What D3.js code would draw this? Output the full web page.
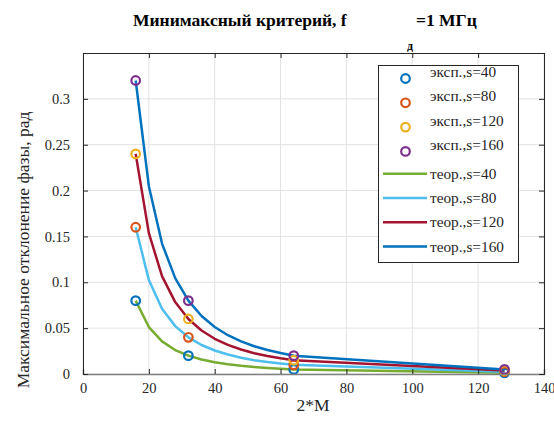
<!DOCTYPE html>
<html><head><meta charset="utf-8">
<script src="https://cdn.jsdelivr.net/npm/d3@7"></script>
<style>body{margin:0;background:#fff}svg{display:block}</style>
</head><body>
<script>
const expX = [16, 32, 64, 128];
const exp40 = [0.08, 0.02, 0.005, 0.00125];
const exp80 = [0.16, 0.04, 0.01, 0.0025];
const exp120 = [0.24, 0.06, 0.015, 0.00375];
const exp160 = [0.32, 0.08, 0.02, 0.005];
const teorX = [16, 20, 24, 28, 32, 36, 40, 44, 48, 52, 56, 60, 64, 128];
const teor40 = [0.08, 0.0512, 0.0356, 0.0261, 0.02, 0.0158, 0.0128, 0.0106, 0.0089, 0.0076, 0.0065, 0.0057, 0.005, 0.00125];
const teor80 = [0.16, 0.1024, 0.0711, 0.0522, 0.04, 0.0316, 0.0256, 0.0212, 0.0178, 0.0151, 0.0131, 0.0114, 0.01, 0.0025];
const teor120 = [0.24, 0.1536, 0.1067, 0.0784, 0.06, 0.0474, 0.0384, 0.0317, 0.0267, 0.0227, 0.0196, 0.0171, 0.015, 0.00375];
const teor160 = [0.32, 0.2048, 0.1422, 0.1045, 0.08, 0.0632, 0.0512, 0.0423, 0.0356, 0.0303, 0.0261, 0.0228, 0.02, 0.005];
const xTicks = [0, 20, 40, 60, 80, 100, 120, 140];
const yTicks = [0, 0.05, 0.1, 0.15, 0.2, 0.25, 0.3];
const expSeries = [
  {name: "эксп.,s=40", vals: exp40, color: "#0072BD"},
  {name: "эксп.,s=80", vals: exp80, color: "#D95319"},
  {name: "эксп.,s=120", vals: exp120, color: "#EDB120"},
  {name: "эксп.,s=160", vals: exp160, color: "#7E2F8E"}
];
const teorSeries = [
  {name: "теор.,s=40", vals: teor40, color: "#77AC30"},
  {name: "теор.,s=80", vals: teor80, color: "#4DBEEE"},
  {name: "теор.,s=120", vals: teor120, color: "#A2142F"},
  {name: "теор.,s=160", vals: teor160, color: "#0072BD"}
];

const W = 554, H = 421;
const L = 83, R = 544, T = 53, B = 374;
const font = "'Liberation Serif', 'Times New Roman', serif";
const svg = d3.select("body").append("svg").attr("width", W).attr("height", H)
  .attr("font-family", font);

const x = d3.scaleLinear().domain([0, 140]).range([L, R]);
const y = d3.scaleLinear().domain([0, 0.35]).range([B, T]);

// grid
const g = svg.append("g");
g.selectAll(".gx").data(xTicks).enter().append("line")
  .attr("x1", d => x(d)).attr("x2", d => x(d)).attr("y1", T).attr("y2", B)
  .attr("stroke", "#e3e3e3").attr("stroke-width", 1);
g.selectAll(".gy").data(yTicks).enter().append("line")
  .attr("y1", d => y(d)).attr("y2", d => y(d)).attr("x1", L).attr("x2", R)
  .attr("stroke", "#e3e3e3").attr("stroke-width", 1);

// lines
const line = d3.line().x((d, i) => x(teorX[i])).y(d => y(d));
teorSeries.forEach(s => {
  svg.append("path").datum(s.vals).attr("d", line)
    .attr("fill", "none").attr("stroke", s.color).attr("stroke-width", 2.5)
    .attr("stroke-linejoin", "round");
});
// markers
expSeries.forEach(s => {
  svg.selectAll(null).data(s.vals).enter().append("circle")
    .attr("cx", (d, i) => x(expX[i])).attr("cy", d => y(d)).attr("r", 4.3)
    .attr("fill", "none").attr("stroke", s.color).attr("stroke-width", 2.2);
});

// axes
const axCol = "#262626";
const xAxis = svg.append("g").attr("transform", `translate(0,${B})`)
  .call(d3.axisBottom(x).tickValues(xTicks).tickSize(-5).tickPadding(9).tickFormat(d3.format("d")));
const xAxisTop = svg.append("g").attr("transform", `translate(0,${T})`)
  .call(d3.axisTop(x).tickValues(xTicks).tickSize(-5).tickFormat(""));
const yAxis = svg.append("g").attr("transform", `translate(${L},0)`)
  .call(d3.axisLeft(y).tickValues(yTicks).tickSize(-5).tickPadding(13).tickFormat(d => d === 0 ? "0" : String(d)));
const yAxisR = svg.append("g").attr("transform", `translate(${R},0)`)
  .call(d3.axisRight(y).tickValues(yTicks).tickSize(-5).tickFormat(""));
[xAxis, xAxisTop, yAxis, yAxisR].forEach(a => {
  a.attr("font-family", font).attr("font-size", 14.5);
  a.select(".domain").attr("stroke", axCol).attr("stroke-width", 1);
  a.selectAll(".tick line").attr("stroke", axCol);
  a.selectAll("text").attr("fill", axCol);
});
xAxis.select(".domain").attr("stroke", "#808080").attr("stroke-width", 1.5);

// labels
svg.append("text").attr("x", 313).attr("y", 411).attr("text-anchor", "middle")
  .attr("fill", axCol).attr("font-size", 17.5).text("2*M");
svg.append("text").attr("transform", "translate(29,250) rotate(-90)").attr("text-anchor", "middle")
  .attr("fill", axCol).attr("font-size", 17.5).text("Максимальное отклонение фазы, рад");

// title
const title = svg.append("text").attr("y", 26).attr("fill", "#000")
  .attr("font-size", 17.5).attr("font-weight", "bold");
title.append("tspan").attr("x", 133).text("Минимаксный критерий, f");
title.append("tspan").attr("x", 407).attr("y", 50).attr("font-size", 12).text("д");
title.append("tspan").attr("x", 416).attr("y", 26).text("=1 МГц");

// legend
const lg = svg.append("g");
lg.append("rect").attr("x", 378.5).attr("y", 65.5).attr("width", 140).attr("height", 197)
  .attr("fill", "#fff").attr("stroke", axCol).attr("stroke-width", 1);
const rowY = i => 78.5 + i * 24.3;
expSeries.forEach((s, i) => {
  lg.append("circle").attr("cx", 405.5).attr("cy", rowY(i)).attr("r", 4.3)
    .attr("fill", "none").attr("stroke", s.color).attr("stroke-width", 2.2);
  lg.append("text").attr("x", 430).attr("y", rowY(i) - 1.5).attr("fill", axCol)
    .attr("font-size", 15.3).text(s.name);
});
teorSeries.forEach((s, i) => {
  const yy = rowY(i + 4) - 2;
  lg.append("line").attr("x1", 383).attr("x2", 427).attr("y1", yy).attr("y2", yy)
    .attr("stroke", s.color).attr("stroke-width", 2.5);
  lg.append("text").attr("x", 430).attr("y", yy + 5).attr("fill", axCol)
    .attr("font-size", 15.3).text(s.name);
});
</script>
</body></html>
